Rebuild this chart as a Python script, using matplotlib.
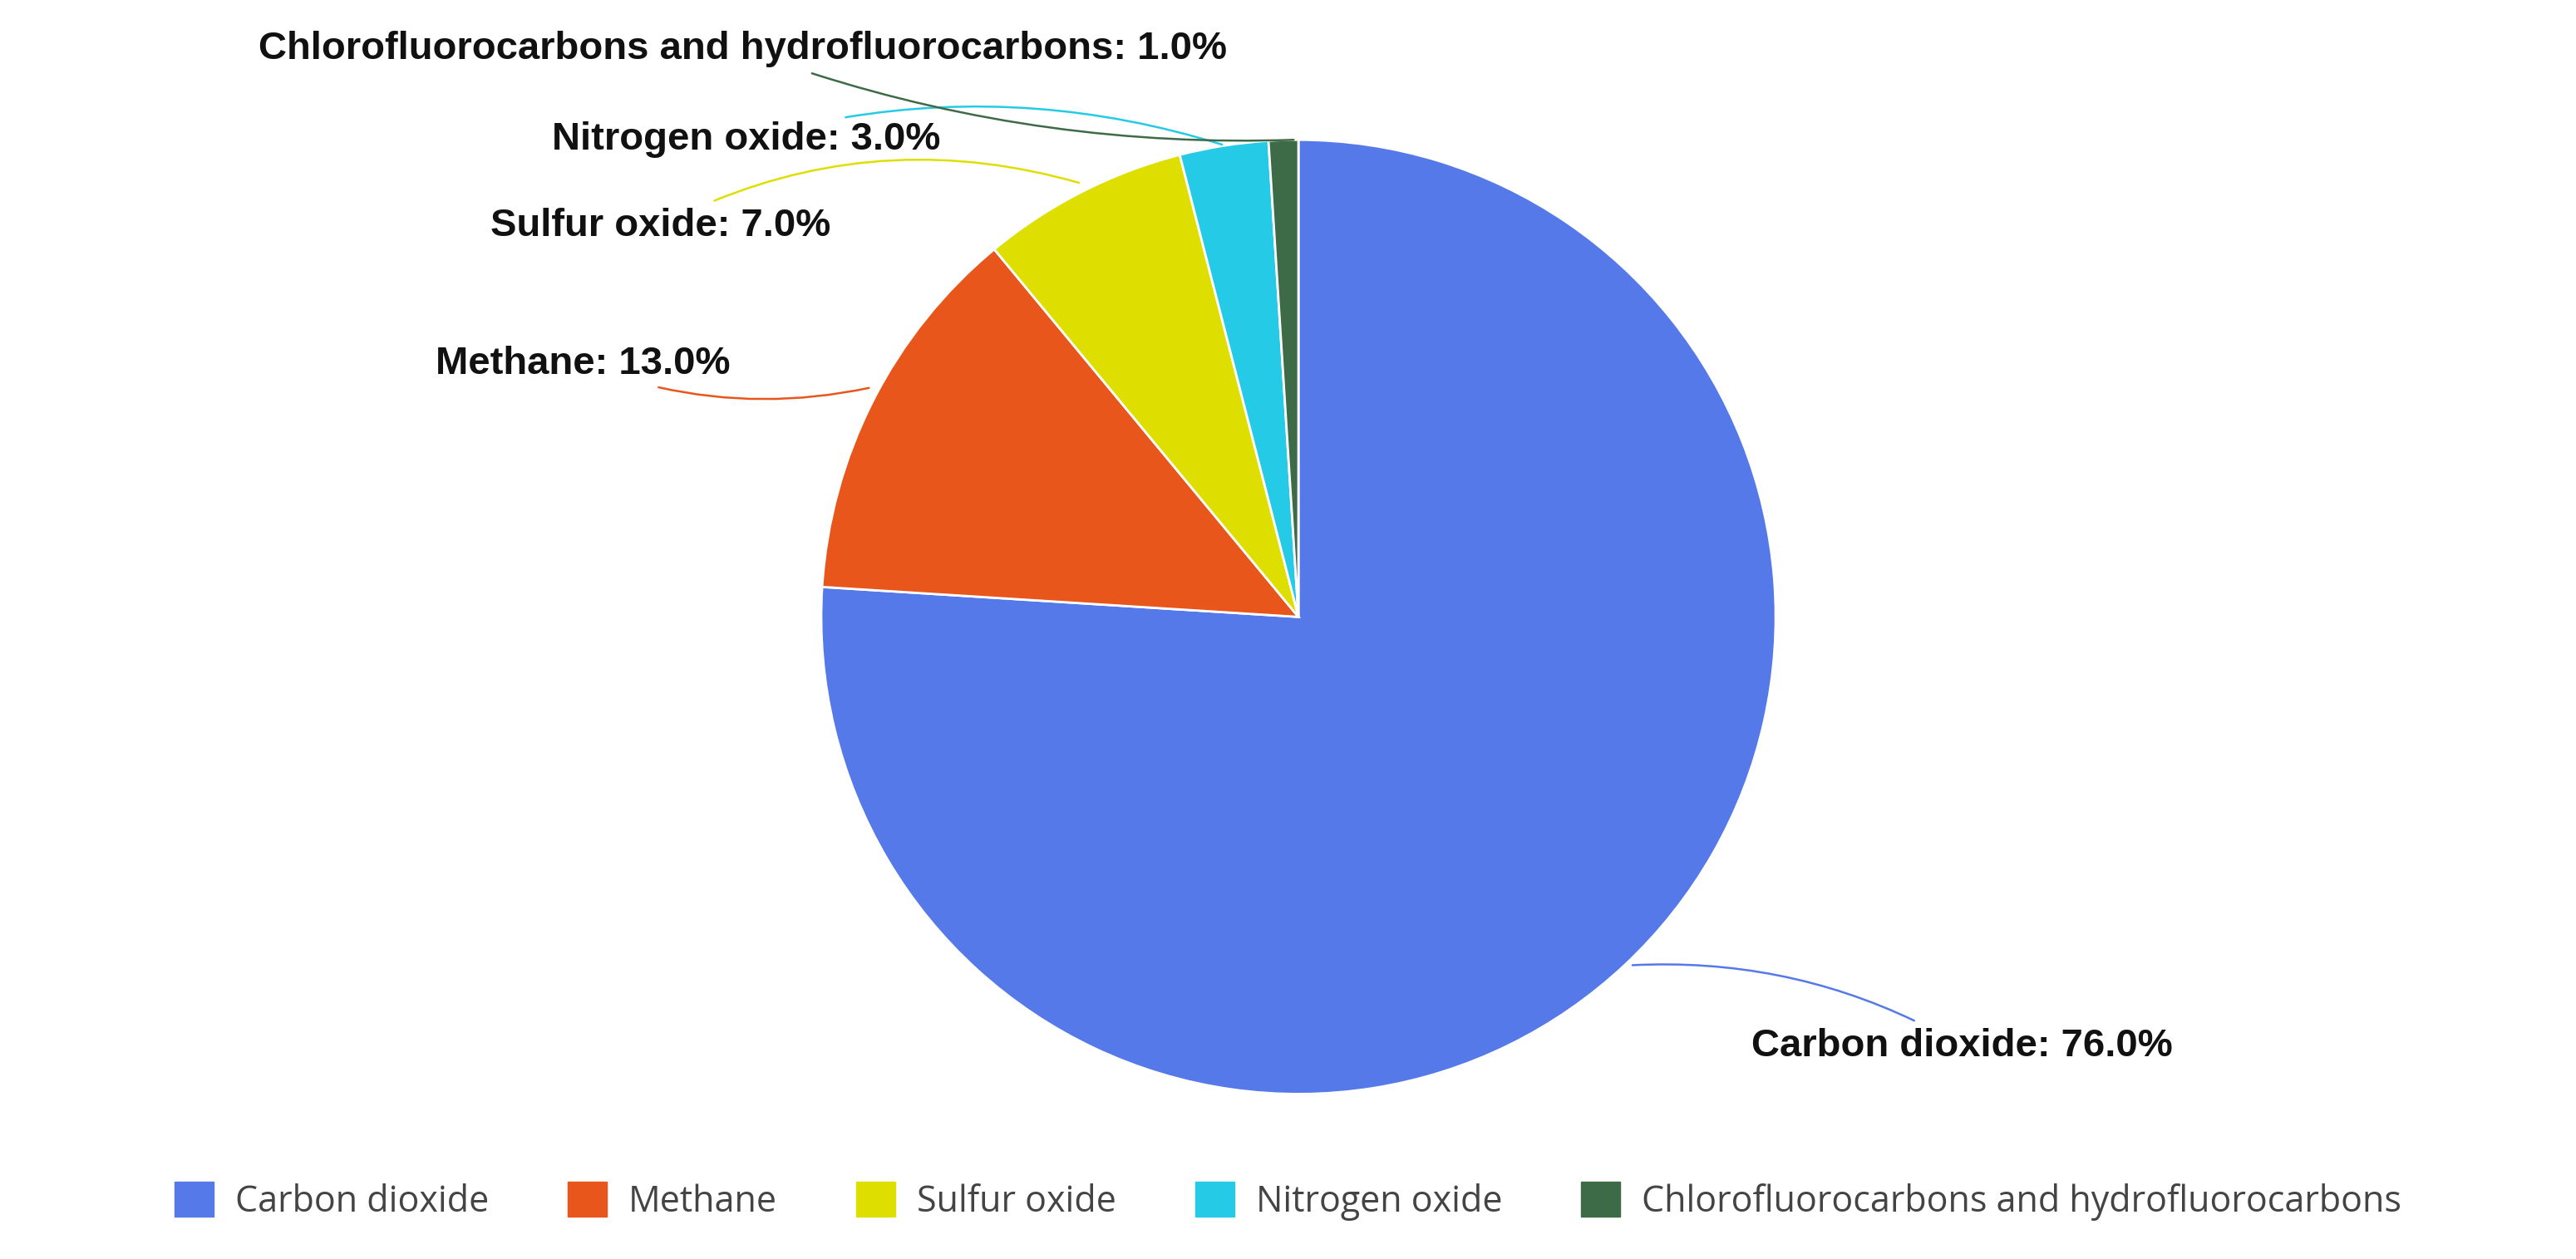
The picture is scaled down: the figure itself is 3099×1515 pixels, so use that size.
import matplotlib
matplotlib.use("Agg")
import matplotlib.pyplot as plt
from matplotlib.patches import Patch

labels = ["Carbon dioxide", "Methane", "Sulfur oxide", "Nitrogen oxide",
          "Chlorofluorocarbons and hydrofluorocarbons"]
values = [76.0, 13.0, 7.0, 3.0, 1.0]
colors = ["#5679E9", "#E8561C", "#DEDF00", "#25CBE6", "#3E6B47"]

fig = plt.figure(figsize=(30.99, 15.15), dpi=100)
ax = fig.add_axes([0.504 - 0.1852, 0.51 - 0.379, 0.3705, 0.758])
wedges, _ = ax.pie(values, colors=colors, startangle=90, counterclock=False,
                   radius=1, wedgeprops=dict(edgecolor="white", linewidth=2))
ax.set_xlim(-1, 1); ax.set_ylim(-1, 1); ax.set_aspect("equal")
ax.axis("off")

# label text positions (data units) and leader start points
text_pos = [(0.95, -0.90), (-1.19, 0.53), (-0.98, 0.82), (-0.75, 1.0), (-0.15, 1.19)]
starts = [(0.70, -0.73), (-0.90, 0.48), (-0.46, 0.91), (-0.16, 0.99), (-0.01, 1.0)]
rads = [0.15, 0.15, -0.2, -0.15, 0.1]
for i, (lab, v) in enumerate(zip(labels, values)):
    tx, ty = text_pos[i]
    ha = "left" if tx > 0 else "right"
    ax.annotate(f"{lab}: {v:.1f}%", xy=starts[i], xytext=(tx, ty),
                ha=ha, va="center", fontsize=34, fontweight="bold",
                family="Liberation Sans", color="#111111",
                arrowprops=dict(arrowstyle="-", color=colors[i], lw=1.8,
                                connectionstyle=f"arc3,rad={rads[i]}",
                                shrinkA=10, shrinkB=0),
                annotation_clip=False)

handles = [Patch(facecolor=c, edgecolor=c) for c in colors]
leg = fig.legend(handles, labels, loc="lower center", ncol=5, frameon=False,
                 bbox_to_anchor=(0.5, 0.005), fontsize=31, handlelength=1.1,
                 handleheight=1.1, columnspacing=2.2, handletextpad=0.6,
                 prop=dict(family="Open Sans", size=31))
for t in leg.get_texts():
    t.set_color("#444444")
fig.savefig("out.png", dpi=100, facecolor="white")
